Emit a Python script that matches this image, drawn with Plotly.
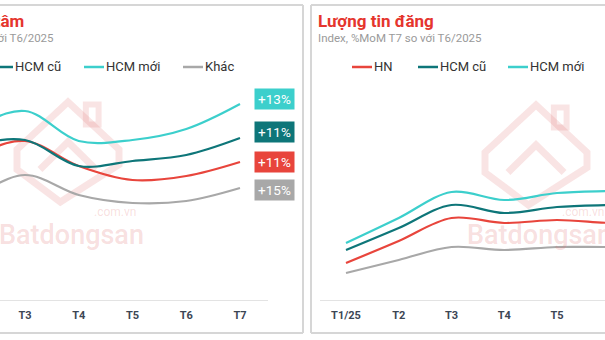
import plotly.graph_objects as go

# ---------------- data ----------------
months = ["T1/25", "T2", "T3", "T4", "T5", "T6", "T7"]

# Left panel (Mức độ quan tâm) – index values
left_names = ["HN", "HCM cũ", "HCM mới", "Khác"]
left_hn = [62.5, 72, 79.5, 67, 60, 62, 69]
left_hcm_cu = [67.5, 77, 80, 67, 69.5, 72.5, 81]
left_hcm_moi = [75, 86, 94.5, 79.5, 80, 85.5, 98]
left_khac = [45, 52, 62.5, 52.5, 48.5, 49.5, 56]
left_pct = ["+13%", "+11%", "+11%", "+15%"]  # HCM mới, HCM cũ, HN, Khác

# Right panel (Lượng tin đăng) – index values
right_names = ["HN", "HCM cũ", "HCM mới", "Khác"]
right_hn = [18.5, 29.5, 41, 38.5, 40, 38.5, 38]
right_hcm_cu = [25, 36, 47.5, 43.5, 46.5, 47.5, 48]
right_hcm_moi = [28.5, 41, 54, 50, 53.5, 54.5, 55]
right_khac = [13.5, 20, 26.5, 25, 26.5, 26.5, 27]

# ---------------- styles ----------------
C_HN = "#e8453c"
C_CU = "#0e7679"
C_MOI = "#3ccfcc"
C_KHAC = "#a8a8a8"
FONT = "Roboto"
W, H = 605, 340

def px(x):
    return x / W

def py(y):
    return 1 - y / H

fig = go.Figure()

# watermark icons (below everything)
shapes = []
def icon(cx, cy):
    col = "rgba(226,120,120,0.2)"
    w, h = 51, 50
    path = (f"M {px(cx)} {py(cy-h)} L {px(cx-w)} {py(cy-h*0.05)} L {px(cx-w)} {py(cy+h*0.35)} "
            f"L {px(cx-w*0.15)} {py(cy+h)} L {px(cx+w)} {py(cy+h*0.25)} L {px(cx+w)} {py(cy-h*0.05)} Z")
    shapes.append(dict(type="path", xref="paper", yref="paper", path=path,
                       line=dict(color=col, width=7), layer="below"))
    chev = (f"M {px(cx-w*0.55)} {py(cy+h*0.35)} L {px(cx)} {py(cy-h*0.2)} L {px(cx+w*0.55)} {py(cy+h*0.35)}")
    shapes.append(dict(type="path", xref="paper", yref="paper", path=chev,
                       line=dict(color=col, width=7), layer="below"))
    shapes.append(dict(type="rect", xref="paper", yref="paper",
                       x0=px(cx+w*0.35), x1=px(cx+w*0.6), y0=py(cy-h*0.55), y1=py(cy-h*0.95),
                       line=dict(color=col, width=6), layer="below"))

icon(68, 152)
icon(536, 155)

# panel frames
fc = "#d6d6d6"
shapes += [
    dict(type="line", xref="paper", yref="paper", x0=px(-5), x1=px(303), y0=py(5), y1=py(5), line=dict(color=fc, width=2)),
    dict(type="line", xref="paper", yref="paper", x0=px(303), x1=px(303), y0=py(5), y1=py(333), line=dict(color=fc, width=2)),
    dict(type="line", xref="paper", yref="paper", x0=px(-5), x1=px(303), y0=py(333), y1=py(333), line=dict(color=fc, width=2)),
    dict(type="line", xref="paper", yref="paper", x0=px(311), x1=px(610), y0=py(5), y1=py(5), line=dict(color=fc, width=2)),
    dict(type="line", xref="paper", yref="paper", x0=px(311), x1=px(311), y0=py(5), y1=py(333), line=dict(color=fc, width=2)),
    dict(type="line", xref="paper", yref="paper", x0=px(311), x1=px(610), y0=py(333), y1=py(333), line=dict(color=fc, width=2)),
]

# traces
left_series = [(left_names[0], left_hn, C_HN), (left_names[1], left_hcm_cu, C_CU),
               (left_names[2], left_hcm_moi, C_MOI), (left_names[3], left_khac, C_KHAC)]
for name, vals, col in left_series:
    fig.add_trace(go.Scatter(x=months, y=vals, name=name, mode="lines",
                             line=dict(color=col, width=2.2, shape="spline", smoothing=1.0),
                             xaxis="x", yaxis="y", showlegend=False))

right_series = [(right_names[0], right_hn, C_HN), (right_names[1], right_hcm_cu, C_CU),
                (right_names[2], right_hcm_moi, C_MOI), (right_names[3], right_khac, C_KHAC)]
for name, vals, col in right_series:
    fig.add_trace(go.Scatter(x=months, y=vals, name=name, mode="lines",
                             line=dict(color=col, width=2.2, shape="spline", smoothing=1.0),
                             xaxis="x2", yaxis="y2", showlegend=False))

ann = []
# watermark text
wm = "rgba(226,120,120,0.24)"
for x0 in (-3, 465):
    ann.append(dict(text="Batdongsan", xref="paper", yref="paper", x=px(x0), y=py(235),
                    xanchor="left", yanchor="middle", showarrow=False,
                    font=dict(family=FONT, size=27, color=wm, weight=500)))
    ann.append(dict(text=".com.vn", xref="paper", yref="paper", x=px(x0 + 141), y=py(212),
                    xanchor="right", yanchor="middle", showarrow=False,
                    font=dict(family=FONT, size=12, color=wm)))

# titles
ann.append(dict(text="<b>Mức độ quan tâm</b>", xref="paper", yref="paper", x=px(26), y=py(21),
                xanchor="right", yanchor="middle", showarrow=False,
                font=dict(family=FONT, size=17, color="#e5352d")))
ann.append(dict(text="Index, %MoM T7 so với T6/2025", xref="paper", yref="paper", x=px(56), y=py(38),
                xanchor="right", yanchor="middle", showarrow=False,
                font=dict(family=FONT, size=11.5, color="#9a9a9a")))
ann.append(dict(text="<b>Lượng tin đăng</b>", xref="paper", yref="paper", x=px(316), y=py(21),
                xanchor="left", yanchor="middle", showarrow=False,
                font=dict(family=FONT, size=17, color="#e5352d")))
ann.append(dict(text="Index, %MoM T7 so với T6/2025", xref="paper", yref="paper", x=px(316), y=py(38),
                xanchor="left", yanchor="middle", showarrow=False,
                font=dict(family=FONT, size=11.5, color="#9a9a9a")))

# manual legends
def legend_item(x_line, name, col):
    shapes.append(dict(type="line", xref="paper", yref="paper", x0=px(x_line), x1=px(x_line + 20),
                       y0=py(67), y1=py(67), line=dict(color=col, width=2.5)))
    ann.append(dict(text=name, xref="paper", yref="paper", x=px(x_line + 20), y=py(67),
                    xanchor="left", yanchor="middle", showarrow=False,
                    font=dict(family=FONT, size=13, color="#333333")))

legend_item(-50, left_names[0], C_HN)
legend_item(-7, left_names[1], C_CU)
legend_item(84, left_names[2], C_MOI)
legend_item(183, left_names[3], C_KHAC)
legend_item(352, right_names[0], C_HN)
legend_item(418, right_names[1], C_CU)
legend_item(508, right_names[2], C_MOI)

# percentage labels
for txt, col, yc in [(left_pct[0], C_MOI, 98.5), (left_pct[1], C_CU, 131.5),
                     (left_pct[2], C_HN, 161.5), (left_pct[3], C_KHAC, 189.5)]:
    ann.append(dict(text=txt, xref="paper", yref="paper", x=px(274), y=py(yc),
                    xanchor="center", yanchor="middle", showarrow=False,
                    bgcolor=col, borderpad=2, width=35, height=16,
                    font=dict(family=FONT, size=13.5, color="white")))

ydom = [40 / H, 260 / H]
axis_common = dict(type="category", categoryorder="array", categoryarray=months,
                   showgrid=False, zeroline=False, showline=True, linecolor="#e3e3e3", linewidth=1,
                   ticks="outside", ticklen=5, tickcolor="rgba(0,0,0,0)",
                   tickfont=dict(family=FONT, size=11, color="#3c4654", weight="bold"))
fig.update_layout(
    width=W, height=H, margin=dict(l=0, r=0, t=0, b=0),
    paper_bgcolor="white", plot_bgcolor="rgba(0,0,0,0)",
    xaxis=dict(domain=[0, 268 / W], range=[1.535, 6.521], anchor="y", **axis_common),
    yaxis=dict(domain=ydom, range=[0, 110], visible=False, anchor="x"),
    xaxis2=dict(domain=[320 / W, 1], range=[-0.493, 4.91], anchor="y2", **axis_common),
    yaxis2=dict(domain=ydom, range=[0, 110], visible=False, anchor="x2"),
    shapes=shapes, annotations=ann, showlegend=False,
)

fig.write_html("out.html")
